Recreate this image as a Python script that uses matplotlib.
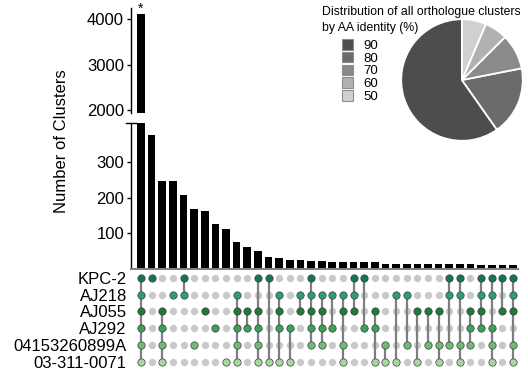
import matplotlib
matplotlib.use("Agg")
import matplotlib.pyplot as plt
from matplotlib.patches import Patch
import numpy as np

plt.rcParams['font.family'] = ['Liberation Sans', 'DejaVu Sans']

# sets (matrix rows, top to bottom)
sets = ['KPC-2', 'AJ218', 'AJ055', 'AJ292', '04153260899A', '03-311-0071']
set_colors = ['#13745a', '#2a9e7d', '#1f7a40', '#3e9f57', '#6fbc72', '#a6d89e']

# intersection sizes, one per column
counts = [4100, 376, 246, 246, 207, 168, 163, 125, 111, 75, 60, 49,
          33, 30, 24, 24, 21, 21, 18, 17, 17, 17, 17,
          14, 14, 14, 14, 14, 14, 14, 14, 14, 11, 11, 11, 11]

# which sets (row index) belong to each intersection
members = [
    [0, 1, 2, 3, 4, 5], [0], [2, 3, 4, 5], [1], [0, 1], [4], [2], [3], [5],
    [1, 2, 3, 4, 5], [2, 3], [0, 2, 3, 4, 5], [0, 5], [1, 2, 3, 5], [3, 5],
    [1, 2], [0, 1, 2, 3, 4], [1, 2, 3, 4], [1, 3], [1, 2, 4, 5], [0, 1, 2],
    [0, 3], [2, 3, 5], [4, 5], [1, 5], [1, 4], [2, 5], [2, 4], [2, 4, 5],
    [0, 1, 4], [0, 1, 4, 5], [2, 3, 4], [0, 1, 2, 3], [0, 1, 3, 4, 5],
    [0, 2], [0, 1, 2, 4, 5],
]

# pie: distribution by AA identity
identity_labels = ['90', '80', '70', '60', '50']
identity_share = [59.7, 18.3, 9.4, 6.1, 6.4]
pie_colors = ['#4d4d4d', '#6b6b6b', '#8a8a8a', '#b1b1b1', '#d0d0d0']

W_PX, H_PX = 528, 373
fig = plt.figure(figsize=(W_PX / 100, H_PX / 100), dpi=100)


def box(x0, y0, x1, y1):
    # pixel box (top-left origin) -> figure fraction
    return [x0 / W_PX, 1 - y1 / H_PX, (x1 - x0) / W_PX, (y1 - y0) / H_PX]


x = np.arange(len(counts))
xlim = (-0.94, 35.47)

ax_top = fig.add_axes(box(131, 8, 518, 113))
ax_bot = fig.add_axes(box(131, 123, 518, 268.5))
ax_mat = fig.add_axes(box(131, 270, 518, 370))

for ax in (ax_top, ax_bot):
    ax.bar(x, counts, width=0.72, color='black')
    ax.set_xlim(*xlim)
    ax.set_xticks([])
    ax.spines['top'].set_visible(False)
    ax.spines['right'].set_visible(False)
    ax.spines['left'].set_linewidth(1.0)
    ax.tick_params(axis='y', labelsize=12, length=3, width=1, pad=2)

ax_top.set_ylim(1940, 4240)
ax_top.set_yticks([2000, 3000, 4000])
ax_top.spines['bottom'].set_visible(False)
ax_top.text(0, counts[0] - 20, '*', ha='center', va='bottom', fontsize=10)

ax_bot.set_ylim(0, 410)
ax_bot.set_yticks([100, 200, 300])
ax_bot.spines['bottom'].set_color('#808080')
ax_bot.spines['bottom'].set_linewidth(1.5)
# break mark at top of lower spine
ax_bot.plot([-0.012, 0.012], [1, 1], transform=ax_bot.transAxes,
            color='black', lw=1, clip_on=False)

fig.text(62 / W_PX, 1 - 141 / H_PX, 'Number of Clusters', rotation=90,
         ha='center', va='center', fontsize=12)

# matrix
for j, mem in enumerate(members):
    for i in range(len(sets)):
        if i in mem:
            ax_mat.scatter(j, -i, s=28, color=set_colors[i], edgecolor='#3d3d3d',
                           linewidth=0.5, zorder=3)
        else:
            ax_mat.scatter(j, -i, s=28, color='#c9c9c9', linewidth=0, zorder=1)
    if len(mem) > 1:
        ax_mat.plot([j, j], [-min(mem), -max(mem)], color='#7f7f7f', lw=1.6, zorder=2)

ax_mat.set_xlim(*xlim)
ax_mat.set_ylim(-5.5, 0.48)
ax_mat.set_xticks([])
ax_mat.set_yticks(-np.arange(len(sets)))
ax_mat.set_yticklabels(sets, fontsize=12)
ax_mat.tick_params(axis='y', length=0, pad=3)
for s in ax_mat.spines.values():
    s.set_visible(False)

# pie inset
ax_pie = fig.add_axes(box(400, 18, 524, 142))
ax_pie.pie(identity_share, colors=pie_colors, startangle=90, counterclock=True,
           wedgeprops=dict(edgecolor='white', linewidth=1.3))
ax_pie.set_xlim(-1.02, 1.02)
ax_pie.set_ylim(-1.02, 1.02)

fig.text(322 / W_PX, 1 - 6 / H_PX,
         'Distribution of all orthologue clusters\nby AA identity (%)',
         ha='left', va='top', fontsize=8.8, linespacing=1.45)

handles = [Patch(facecolor=c, edgecolor='#8c8c8c', linewidth=0.8) for c in pie_colors]
fig.legend(handles, identity_labels, loc='upper left',
           bbox_to_anchor=(342 / W_PX, 1 - 39 / H_PX), frameon=False,
           fontsize=9.5, handlelength=0.85, handleheight=0.85,
           labelspacing=0.0, handletextpad=0.8, borderaxespad=0, borderpad=0)

fig.savefig('out.png', dpi=100)
